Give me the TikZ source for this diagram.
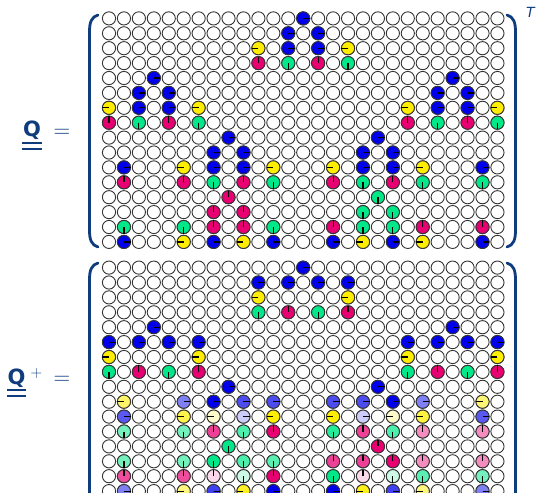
\documentclass[tikz,border=0pt]{standalone}
\usepackage{fontspec}
\newfontfamily\qfont{DejaVu Sans}
\definecolor{qdark}{RGB}{15,60,125}
\definecolor{qb}{RGB}{0,0,235}
\definecolor{qy}{RGB}{255,238,0}
\definecolor{qm}{RGB}{232,0,115}
\definecolor{qg}{RGB}{0,232,135}
\tikzset{
  cell/.style={circle, draw=black!80, line width=0.9pt, fill=white, minimum size=13.2pt, inner sep=0pt, outer sep=0pt},
  hand/.style={line width=1.2pt, black},
  paren/.style={qdark, line width=2.8pt, line cap=round},
  ulin/.style={qdark, line width=1.2pt},
  lab/.style={text=qdark, inner sep=0pt, anchor=base},
}
\begin{document}
\begin{tikzpicture}[x=1pt,y=-1pt]
\useasboundingbox (0,0) rectangle (539,493);
\clip (0,0) rectangle (539,493);
% grids
\foreach \r in {0,...,15}{\foreach \c in {0,...,26}{
  \node[cell] (t-\r-\c) at ({109+14.94*\c},{18.4+14.9*\r}) {};
  \node[cell] (b-\r-\c) at ({109+14.94*\c},{267.6+14.9*\r}) {};
}}
% coloured cells, top matrix
\foreach \r/\c/\k/\a in {
0/13/qb/east,
1/12/qb/east, 1/14/qb/east,
2/10/qy/west, 2/12/qb/east, 2/14/qb/east, 2/16/qy/west,
3/10/qm/north, 3/12/qg/south, 3/14/qm/north, 3/16/qg/south,
4/3/qb/east, 4/23/qb/east,
5/2/qb/east, 5/4/qb/east, 5/22/qb/east, 5/24/qb/east,
6/0/qy/west, 6/2/qb/east, 6/4/qb/east, 6/6/qy/west, 6/20/qy/west, 6/22/qb/east, 6/24/qb/east, 6/26/qy/west,
7/0/qm/north, 7/2/qg/south, 7/4/qm/north, 7/6/qg/south, 7/20/qm/north, 7/22/qg/south, 7/24/qm/north, 7/26/qg/south,
8/8/qb/east, 8/18/qb/east,
9/7/qb/east, 9/9/qb/east, 9/17/qb/east, 9/19/qb/east,
10/1/qb/east, 10/5/qy/west, 10/7/qb/east, 10/9/qb/east, 10/11/qy/west, 10/15/qy/west, 10/17/qb/east, 10/19/qb/east, 10/21/qy/west, 10/25/qb/east,
11/1/qm/north, 11/5/qm/north, 11/7/qg/south, 11/9/qm/north, 11/11/qg/south, 11/15/qm/north, 11/17/qg/south, 11/19/qm/north, 11/21/qg/south, 11/25/qg/south,
12/8/qm/north, 12/18/qg/south,
13/7/qm/north, 13/9/qm/north, 13/17/qg/south, 13/19/qg/south,
14/1/qg/south, 14/5/qg/south, 14/7/qm/north, 14/9/qm/north, 14/11/qg/south, 14/15/qm/north, 14/17/qg/south, 14/19/qg/south, 14/21/qm/north, 14/25/qm/north,
15/1/qb/east, 15/5/qy/west, 15/7/qb/east, 15/9/qy/west, 15/11/qb/east, 15/15/qb/east, 15/17/qy/west, 15/19/qb/east, 15/21/qy/west, 15/25/qb/east}{
  \node[cell, fill=\k] (tf-\r-\c) at (t-\r-\c) {};
  \draw[hand] (tf-\r-\c.center) -- (tf-\r-\c.\a);
}
% coloured cells, bottom matrix
\foreach \r/\c/\k/\a in {
0/13/qb/east,
1/10/qb/east, 1/12/qb/east, 1/14/qb/east, 1/16/qb/east,
2/10/qy/west, 2/16/qy/west,
3/10/qg/south, 3/12/qm/north, 3/14/qg/south, 3/16/qm/north,
4/3/qb/east, 4/23/qb/east,
5/0/qb/east, 5/2/qb/east, 5/4/qb/east, 5/6/qb/east, 5/20/qb/east, 5/22/qb/east, 5/24/qb/east, 5/26/qb/east,
6/0/qy/west, 6/6/qy/west, 6/20/qy/west, 6/26/qy/west,
7/0/qg/south, 7/2/qm/north, 7/4/qg/south, 7/6/qm/north, 7/20/qg/south, 7/22/qm/north, 7/24/qg/south, 7/26/qm/north,
8/8/qb/east, 8/18/qb/east,
9/1/qy!60/west, 9/5/qb!50/east, 9/7/qb/east, 9/9/qb!70/east, 9/11/qb!70/east, 9/15/qb!70/east, 9/17/qb!70/east, 9/19/qb/east, 9/21/qb!50/east, 9/25/qy!55/west,
10/1/qb!65/east, 10/5/qy!70/west, 10/7/qy!20/west, 10/9/qb!20/east, 10/11/qy/west, 10/15/qy/west, 10/17/qb!20/east, 10/19/qy!20/west, 10/21/qy!75/west, 10/25/qb!65/east,
11/1/qg!55/south, 11/5/qg!55/south, 11/7/qm!75/north, 11/9/qg!70/south, 11/11/qm/north, 11/15/qg!85/south, 11/17/qm!75/north, 11/19/qg!70/south, 11/21/qm!45/north, 11/25/qm!45/north,
12/8/qg/south, 12/18/qm/north,
13/1/qg!55/south, 13/5/qg!55/south, 13/7/qg/south, 13/9/qg!70/south, 13/11/qg!65/south, 13/15/qm!75/north, 13/17/qm!75/north, 13/19/qm/north, 13/21/qm!45/north, 13/25/qm!45/north,
14/1/qm!70/north, 14/5/qm!70/north, 14/7/qm!15/north, 14/9/qg!20/south, 14/11/qm/north, 14/15/qg/south, 14/17/qm!15/north, 14/19/qg!20/south, 14/21/qg!65/south, 14/25/qg!55/south,
15/1/qb!50/east, 15/5/qy!50/west, 15/7/qb!75/east, 15/9/qy!85/west, 15/11/qb/east, 15/15/qb/east, 15/17/qy!90/west, 15/19/qb!75/east, 15/21/qy!50/west, 15/25/qb!50/east}{
  \node[cell, fill=\k] (bf-\r-\c) at (b-\r-\c) {};
  \draw[hand] (bf-\r-\c.center) -- (bf-\r-\c.\a);
}
% parentheses
\draw[paren] (98,15) .. controls (91.5,17) and (89.5,22) .. (89.5,32) -- (89.5,230) .. controls (89.5,240) and (91.5,245) .. (98,247);
\draw[paren] (507,15) .. controls (513.5,17) and (515.5,22) .. (515.5,32) -- (515.5,230) .. controls (515.5,240) and (513.5,245) .. (507,247);
\draw[paren] (98,263) .. controls (91.5,265) and (89.5,270) .. (89.5,280) -- (89.5,505);
\draw[paren] (507,263) .. controls (513.5,265) and (515.5,270) .. (515.5,280) -- (515.5,505);
% labels
\node[lab, font=\qfont\bfseries\fontsize{21}{21}\selectfont] (q1) at (32,136.5) {Q};
\draw[ulin] (22,143) -- (42,143);
\draw[ulin] (22,149) -- (42,149);
\node[lab, font=\fontsize{23}{23}\selectfont] (eq1) at (62,137.3) {=};
\node[lab, font=\qfont\itshape\fontsize{14}{14}\selectfont] (tr) at (530.5,17) {T};
\node[lab, font=\qfont\bfseries\fontsize{21}{21}\selectfont] (q2) at (16.5,384.5) {Q};
\draw[ulin] (7,390) -- (26,390);
\draw[ulin] (7,396) -- (26,396);
\node[lab, font=\fontsize{16}{16}\selectfont] (pl) at (36.5,377.5) {+};
\node[lab, font=\fontsize{23}{23}\selectfont] (eq2) at (62,384.3) {=};
\end{tikzpicture}
\end{document}
